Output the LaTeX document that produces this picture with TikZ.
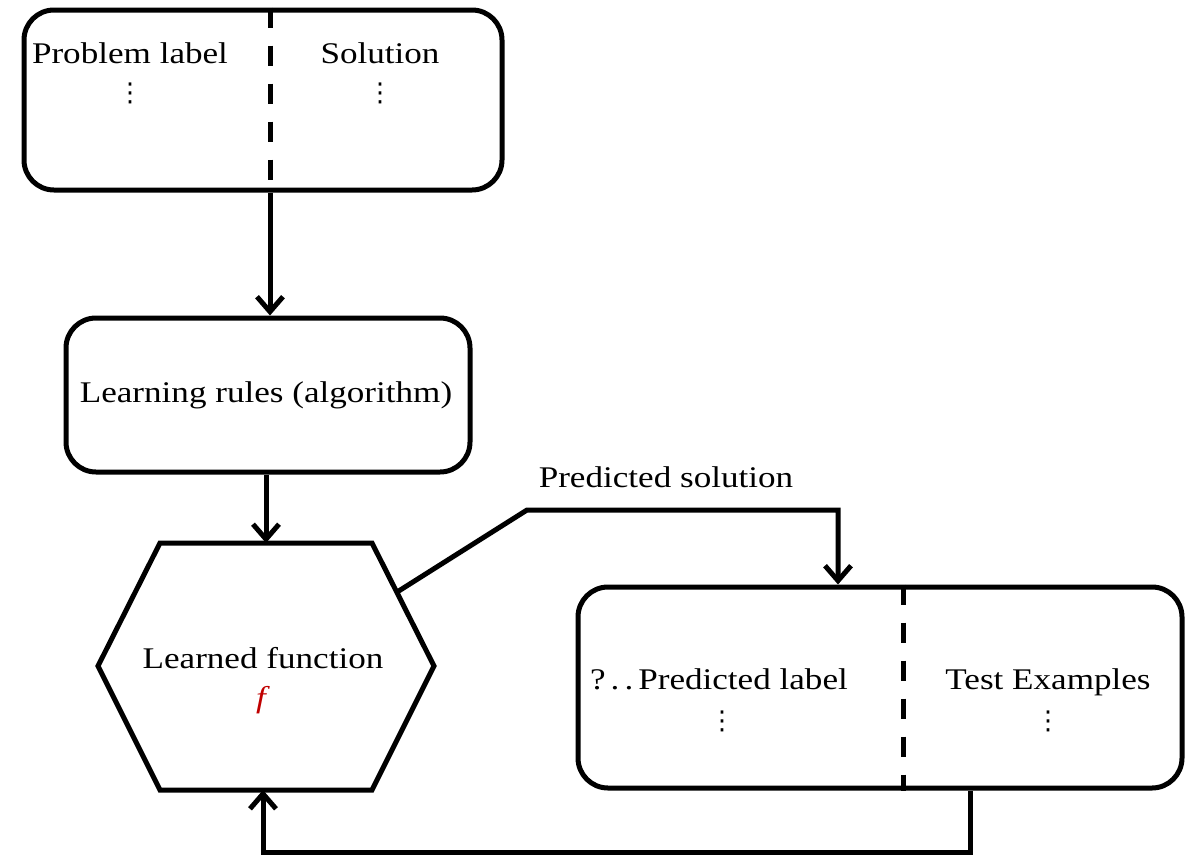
\documentclass[tikz,border=0pt]{standalone}
\usepackage{fontspec}
\setmainfont{Liberation Serif}[FakeStretch=1.17]
\newfontfamily\symfont{DejaVu Sans}
\usetikzlibrary{arrows.meta,calc}
\definecolor{fred}{RGB}{192,0,0}
\newcommand{\myvd}{{\symfont\fontsize{26}{30}\selectfont ⋮}}
\begin{document}
\begin{tikzpicture}[x=1pt,y=-1pt,
  box/.style={draw,line width=5pt,rounded corners=30pt,inner sep=0pt},
  lbl/.style={font=\fontsize{30}{36}\selectfont,inner sep=0pt},
  conn/.style={line width=5pt},
  arr/.style={conn,-{Straight Barb[length=15pt,width=26pt]}},
  divider/.style={line width=5pt,dash pattern=on 20pt off 18pt}]
\useasboundingbox (0,0) rectangle (1188,854);
% boxes
\node[box,minimum width=478pt,minimum height=180pt] (top) at (263,100) {};
\node[box,minimum width=404pt,minimum height=154pt] (learn) at (268,395) {};
\node[box,minimum width=604pt,minimum height=201pt] (test) at (880,687.5) {};
% hexagon
\coordinate (h1) at (160,543);
\coordinate (h2) at (372,543);
\coordinate (h3) at (434,666);
\coordinate (h4) at (372,790);
\coordinate (h5) at (160,790);
\coordinate (h6) at (98,666);
\draw[line width=5pt,line join=miter] (h1) -- (h2) -- (h3) -- (h4) -- (h5) -- (h6) -- cycle;
\coordinate (hex top) at (266,543);
\coordinate (hex bot) at (263,790);
\coordinate (hex out) at ($(h2)!0.4!(h3)$);
% dividers
\coordinate (d1) at (270,0);
\coordinate (d2) at (903,0);
\draw[divider] (top.north -| d1) -- (top.south -| d1);
\draw[divider] (test.north -| d2) -- (test.south -| d2);
% labels
\node[lbl,anchor=base] (pl) at (130,63) {Problem label};
\node[lbl] (plv) at (130,93) {\myvd};
\node[lbl,anchor=base] (sol) at (380,63) {Solution};
\node[lbl] (solv) at (380,93) {\myvd};
\node[lbl,anchor=base] (lr) at (266,402) {Learning rules (algorithm)};
\node[lbl,anchor=base] (lf) at (263,668) {Learned function};
\node[lbl,anchor=base,text=fred] (ff) at (263,707) {\textit{f}};
\node[lbl,anchor=base] (ps) at (666,487) {Predicted solution};
\node[lbl,anchor=base] (pdl) at (719,689) {?\,.\,.\,Predicted label};
\node[lbl] (pdlv) at (722,721) {\myvd};
\node[lbl,anchor=base] (te) at (1048,689) {Test Examples};
\node[lbl] (tev) at (1048,721) {\myvd};
% connectors
\draw[arr] (top.south -| d1) -- (learn.north -| d1);
\draw[arr] (learn.south -| hex top) -- (hex top);
\coordinate (c1) at (527,510);
\coordinate (c2) at (838,510);
\draw[arr,line join=miter] (hex out) -- (c1) -- (c2) -- (test.north -| c2);
\coordinate (b1) at (970,852);
\coordinate (b2) at (263,852);
\draw[arr,line join=miter] (test.south -| b1) -- (b1) -- (b2) -- (hex bot);
\end{tikzpicture}
\end{document}
